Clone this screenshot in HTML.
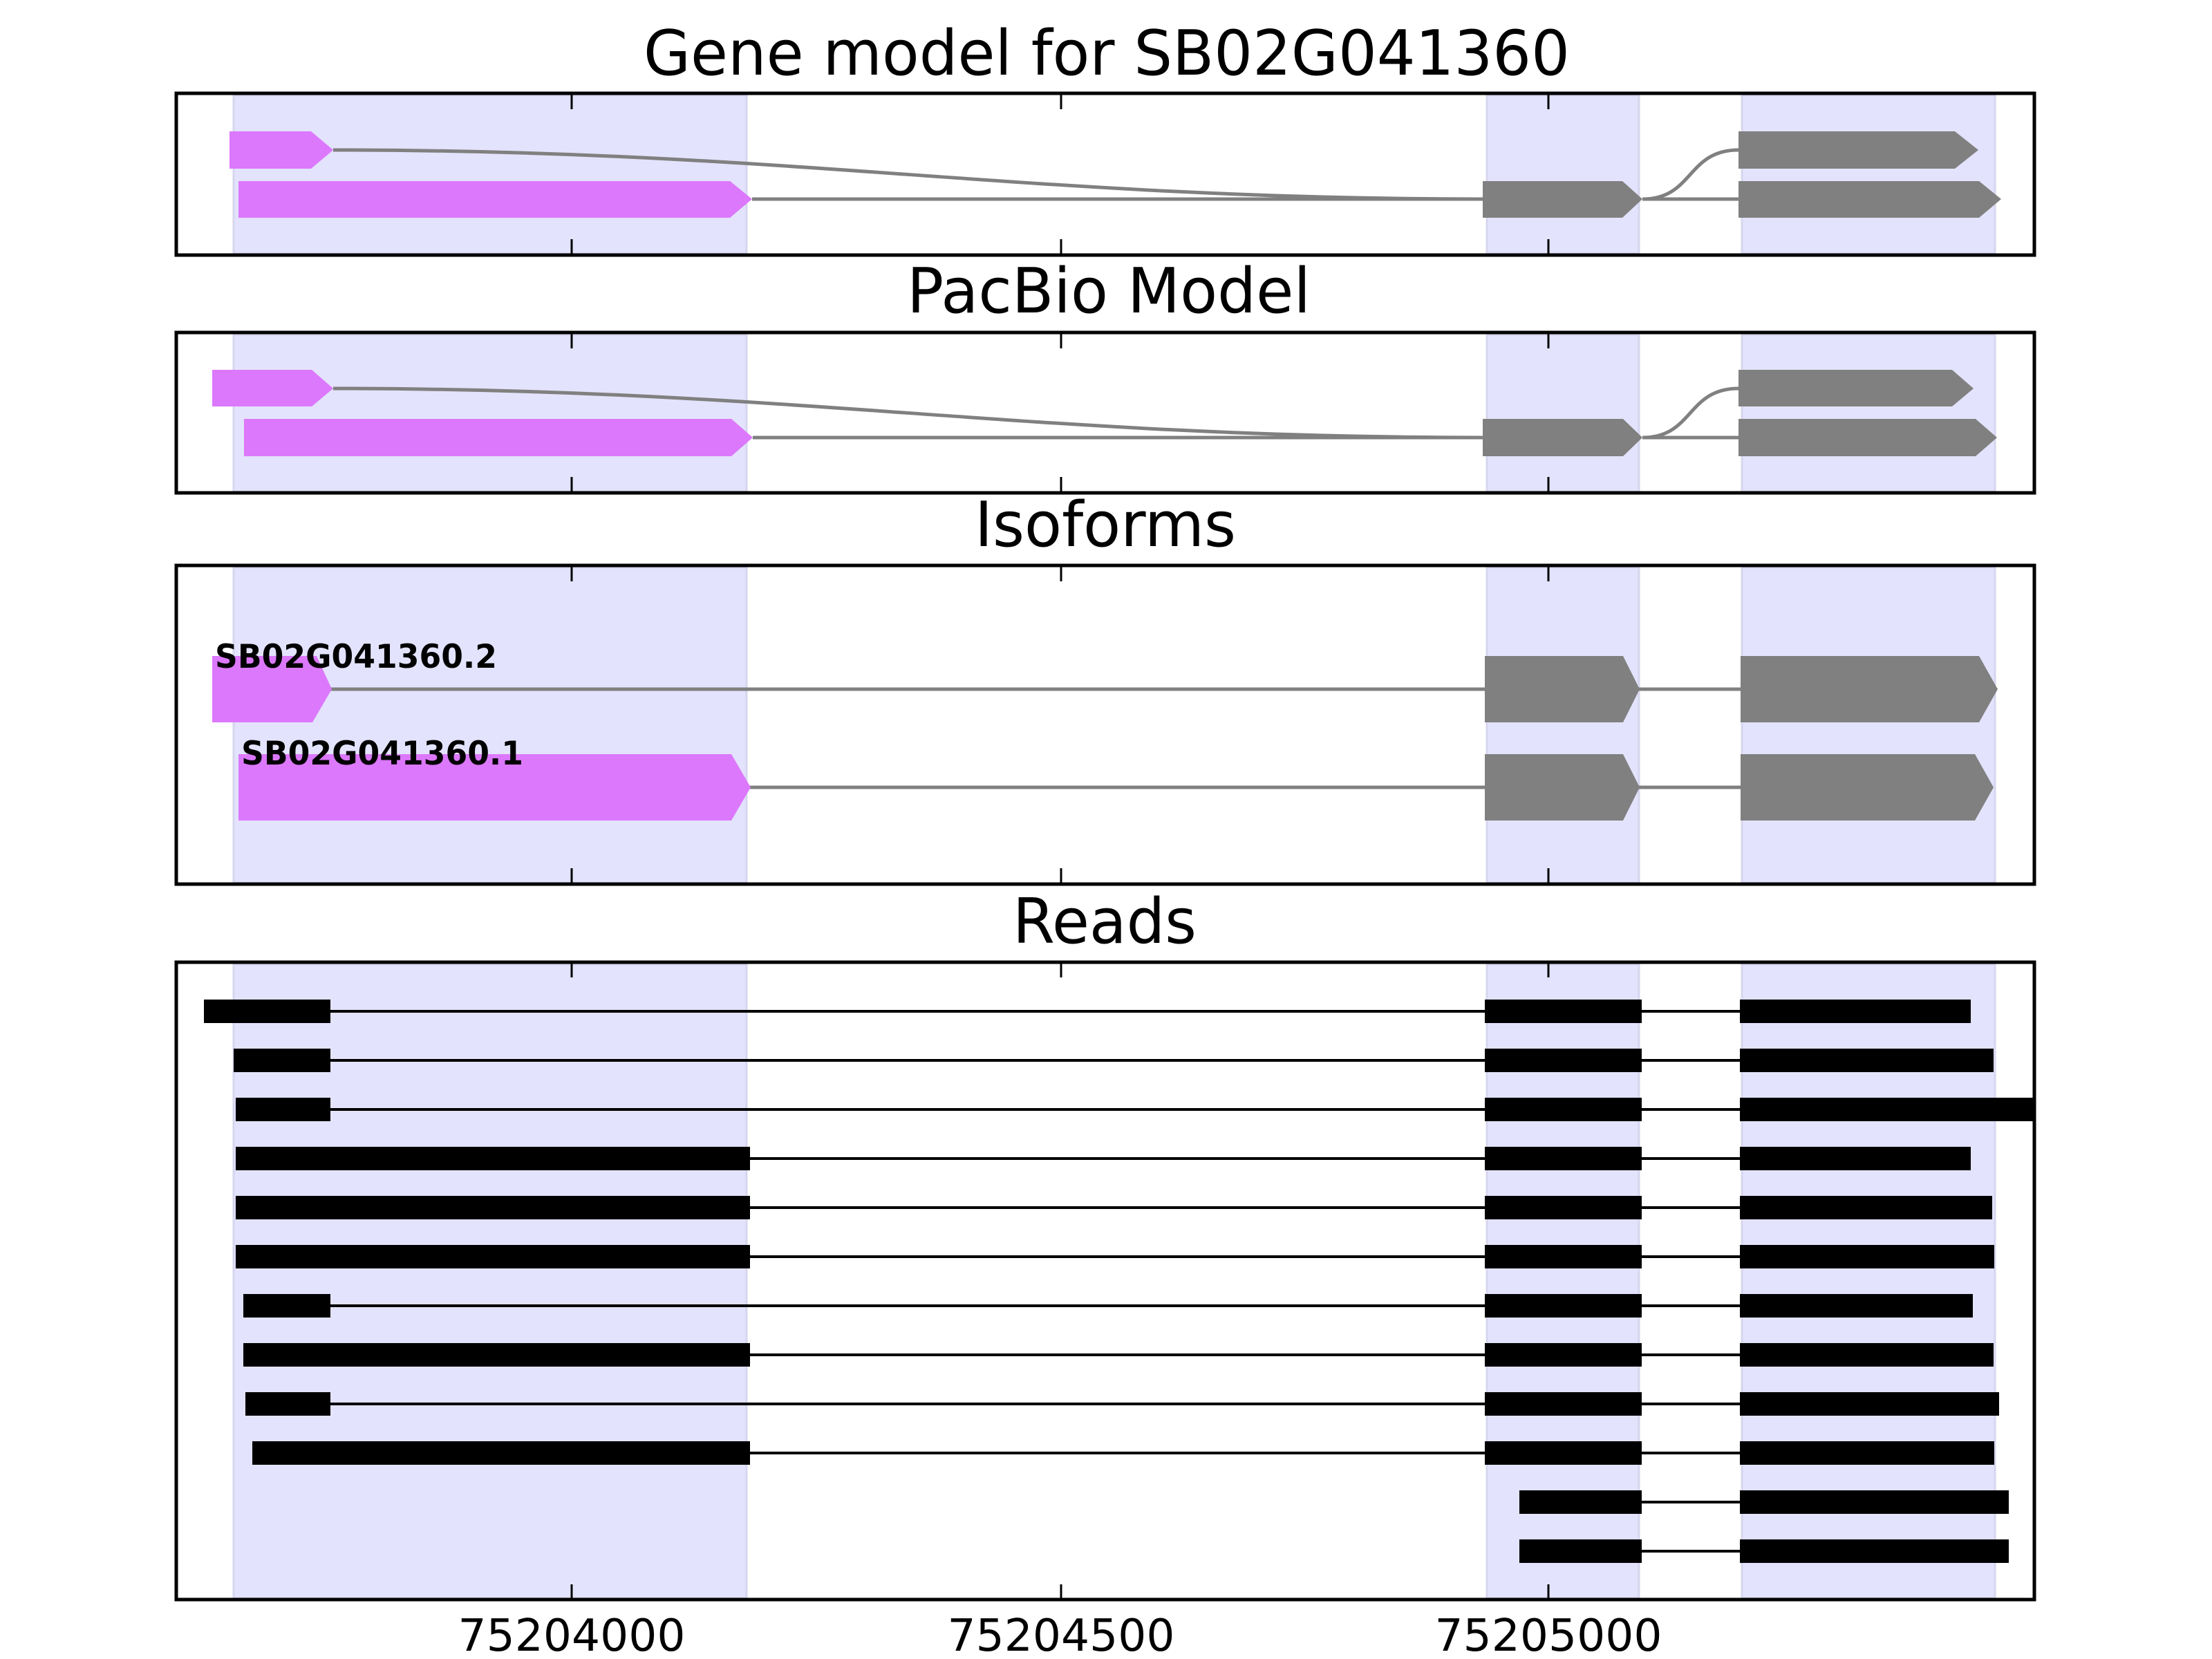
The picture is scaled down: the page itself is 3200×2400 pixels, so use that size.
<!DOCTYPE html>
<html><head><meta charset="utf-8"><style>html,body{margin:0;padding:0;background:#fff}svg{display:block}</style></head>
<body>
<svg width="3200" height="2400" viewBox="0 0 3200 2400" xmlns="http://www.w3.org/2000/svg" font-family="'DejaVu Sans','Liberation Sans',sans-serif">
<rect width="3200" height="2400" fill="#fff"/>
<!-- titles -->
<text x="1601" y="108" font-size="90" text-anchor="middle" textLength="1340" lengthAdjust="spacingAndGlyphs">Gene model for SB02G041360</text>
<text x="1604" y="452" font-size="90" text-anchor="middle" textLength="584" lengthAdjust="spacingAndGlyphs">PacBio Model</text>
<text x="1599" y="790" font-size="90" text-anchor="middle" textLength="378" lengthAdjust="spacingAndGlyphs">Isoforms</text>
<text x="1598" y="1364" font-size="90" text-anchor="middle" textLength="266" lengthAdjust="spacingAndGlyphs">Reads</text>

<!-- shaded regions -->
<g fill="#e3e3fd" stroke="#d6d6ee" stroke-width="3">
<rect x="338" y="138" width="742" height="229"/><rect x="2151" y="138" width="220" height="229"/><rect x="2520" y="138" width="366" height="229"/>
<rect x="338" y="484" width="742" height="227"/><rect x="2151" y="484" width="220" height="227"/><rect x="2520" y="484" width="366" height="227"/>
<rect x="338" y="821" width="742" height="456"/><rect x="2151" y="821" width="220" height="456"/><rect x="2520" y="821" width="366" height="456"/>
<rect x="338" y="1395" width="742" height="917"/><rect x="2151" y="1395" width="220" height="917"/><rect x="2520" y="1395" width="366" height="917"/>
</g>

<!-- panel 1 -->
<g fill="none" stroke="#808080" stroke-width="5">
<path d="M482,217 C1150,217 1480,288 2145,288"/>
<line x1="1088" y1="288" x2="2145" y2="288"/>
<path d="M2376,288 C2450,288 2440,217 2515,217"/>
<line x1="2376" y1="288" x2="2515" y2="288"/>
</g>
<g fill="#dc78fc">
<polygon points="332,190 450,190 482,217 450,244 332,244"/>
<polygon points="345,262 1056,262 1088,288 1056,315 345,315"/>
</g>
<g fill="#808080">
<polygon points="2145,262 2347,262 2376,288 2347,315 2145,315"/>
<polygon points="2515,190 2828,190 2862,217 2828,244 2515,244"/>
<polygon points="2515,262 2863,262 2895,288 2863,315 2515,315"/>
</g>

<!-- panel 2 -->
<g fill="none" stroke="#808080" stroke-width="5">
<path d="M482,562 C1150,562 1480,633 2145,633"/>
<line x1="1089" y1="633" x2="2145" y2="633"/>
<path d="M2376,633 C2450,633 2440,562 2515,562"/>
<line x1="2376" y1="633" x2="2515" y2="633"/>
</g>
<g fill="#dc78fc">
<polygon points="307,535 451,535 482,562 451,588 307,588"/>
<polygon points="353,606 1058,606 1089,633 1058,660 353,660"/>
</g>
<g fill="#808080">
<polygon points="2145,606 2348,606 2376,633 2348,660 2145,660"/>
<polygon points="2515,535 2824,535 2855,562 2824,588 2515,588"/>
<polygon points="2515,606 2858,606 2889,633 2858,660 2515,660"/>
</g>

<!-- panel 3 -->
<g stroke="#808080" stroke-width="5">
<line x1="475" y1="997" x2="2518" y2="997"/>
<line x1="1080" y1="1139" x2="2518" y2="1139"/>
</g>
<g fill="#dc78fc">
<polygon points="307,949 458,949 480,997 452,1045 307,1045"/>
<polygon points="345,1091 1058,1091 1086,1139 1058,1187 345,1187"/>
</g>
<g fill="#808080">
<polygon points="2148,949 2348,949 2372,997 2348,1045 2148,1045"/>
<polygon points="2518,949 2863,949 2890,997 2863,1045 2518,1045"/>
<polygon points="2148,1091 2348,1091 2372,1139 2348,1187 2148,1187"/>
<polygon points="2518,1091 2857,1091 2884,1139 2857,1187 2518,1187"/>
</g>
<text x="311" y="966" font-size="47" font-weight="bold" textLength="408" lengthAdjust="spacingAndGlyphs">SB02G041360.2</text>
<text x="349" y="1106" font-size="47" font-weight="bold" textLength="408" lengthAdjust="spacingAndGlyphs">SB02G041360.1</text>

<!-- panel 4 reads -->
<g stroke="#000" stroke-width="4">
<line x1="295" y1="1463" x2="2851" y2="1463"/>
<line x1="338" y1="1534" x2="2884" y2="1534"/>
<line x1="341" y1="1605" x2="2941" y2="1605"/>
<line x1="341" y1="1676" x2="2851" y2="1676"/>
<line x1="341" y1="1747" x2="2882" y2="1747"/>
<line x1="341" y1="1818" x2="2885" y2="1818"/>
<line x1="352" y1="1889" x2="2854" y2="1889"/>
<line x1="352" y1="1960" x2="2884" y2="1960"/>
<line x1="355" y1="2031" x2="2892" y2="2031"/>
<line x1="365" y1="2102" x2="2885" y2="2102"/>
<line x1="2198" y1="2173" x2="2906" y2="2173"/>
<line x1="2198" y1="2244" x2="2906" y2="2244"/>
</g>
<g fill="#000">
<rect x="295" y="1446" width="183" height="34"/><rect x="2148" y="1446" width="227" height="34"/><rect x="2517" y="1446" width="334" height="34"/>
<rect x="338" y="1517" width="140" height="34"/><rect x="2148" y="1517" width="227" height="34"/><rect x="2517" y="1517" width="367" height="34"/>
<rect x="341" y="1588" width="137" height="34"/><rect x="2148" y="1588" width="227" height="34"/><rect x="2517" y="1588" width="424" height="34"/>
<rect x="341" y="1659" width="744" height="34"/><rect x="2148" y="1659" width="227" height="34"/><rect x="2517" y="1659" width="334" height="34"/>
<rect x="341" y="1730" width="744" height="34"/><rect x="2148" y="1730" width="227" height="34"/><rect x="2517" y="1730" width="365" height="34"/>
<rect x="341" y="1801" width="744" height="34"/><rect x="2148" y="1801" width="227" height="34"/><rect x="2517" y="1801" width="368" height="34"/>
<rect x="352" y="1872" width="126" height="34"/><rect x="2148" y="1872" width="227" height="34"/><rect x="2517" y="1872" width="337" height="34"/>
<rect x="352" y="1943" width="733" height="34"/><rect x="2148" y="1943" width="227" height="34"/><rect x="2517" y="1943" width="367" height="34"/>
<rect x="355" y="2014" width="123" height="34"/><rect x="2148" y="2014" width="227" height="34"/><rect x="2517" y="2014" width="375" height="34"/>
<rect x="365" y="2085" width="720" height="34"/><rect x="2148" y="2085" width="227" height="34"/><rect x="2517" y="2085" width="368" height="34"/>
<rect x="2198" y="2156" width="177" height="34"/><rect x="2517" y="2156" width="389" height="34"/>
<rect x="2198" y="2227" width="177" height="34"/><rect x="2517" y="2227" width="389" height="34"/>
</g>

<!-- ticks -->
<g stroke="#000" stroke-width="3">
<line x1="827" y1="137" x2="827" y2="158"/><line x1="1535" y1="137" x2="1535" y2="158"/><line x1="2240" y1="137" x2="2240" y2="158"/>
<line x1="827" y1="346" x2="827" y2="367"/><line x1="1535" y1="346" x2="1535" y2="367"/><line x1="2240" y1="346" x2="2240" y2="367"/>
<line x1="827" y1="483" x2="827" y2="504"/><line x1="1535" y1="483" x2="1535" y2="504"/><line x1="2240" y1="483" x2="2240" y2="504"/>
<line x1="827" y1="690" x2="827" y2="711"/><line x1="1535" y1="690" x2="1535" y2="711"/><line x1="2240" y1="690" x2="2240" y2="711"/>
<line x1="827" y1="820" x2="827" y2="841"/><line x1="1535" y1="820" x2="1535" y2="841"/><line x1="2240" y1="820" x2="2240" y2="841"/>
<line x1="827" y1="1256" x2="827" y2="1277"/><line x1="1535" y1="1256" x2="1535" y2="1277"/><line x1="2240" y1="1256" x2="2240" y2="1277"/>
<line x1="827" y1="1394" x2="827" y2="1414"/><line x1="1535" y1="1394" x2="1535" y2="1414"/><line x1="2240" y1="1394" x2="2240" y2="1414"/>
<line x1="827" y1="2292" x2="827" y2="2312"/><line x1="1535" y1="2292" x2="1535" y2="2312"/><line x1="2240" y1="2292" x2="2240" y2="2312"/>
</g>

<!-- panel borders -->
<g fill="none" stroke="#000" stroke-width="5">
<rect x="255" y="135" width="2688" height="234"/>
<rect x="255" y="481" width="2688" height="232"/>
<rect x="255" y="818" width="2688" height="461"/>
<rect x="255" y="1392" width="2688" height="922"/>
</g>

<!-- x tick labels -->
<g font-size="64" text-anchor="middle">
<text x="827" y="2388" textLength="329" lengthAdjust="spacingAndGlyphs">75204000</text>
<text x="1535" y="2388" textLength="329" lengthAdjust="spacingAndGlyphs">75204500</text>
<text x="2240" y="2388" textLength="329" lengthAdjust="spacingAndGlyphs">75205000</text>
</g>
</svg>
</body></html>
